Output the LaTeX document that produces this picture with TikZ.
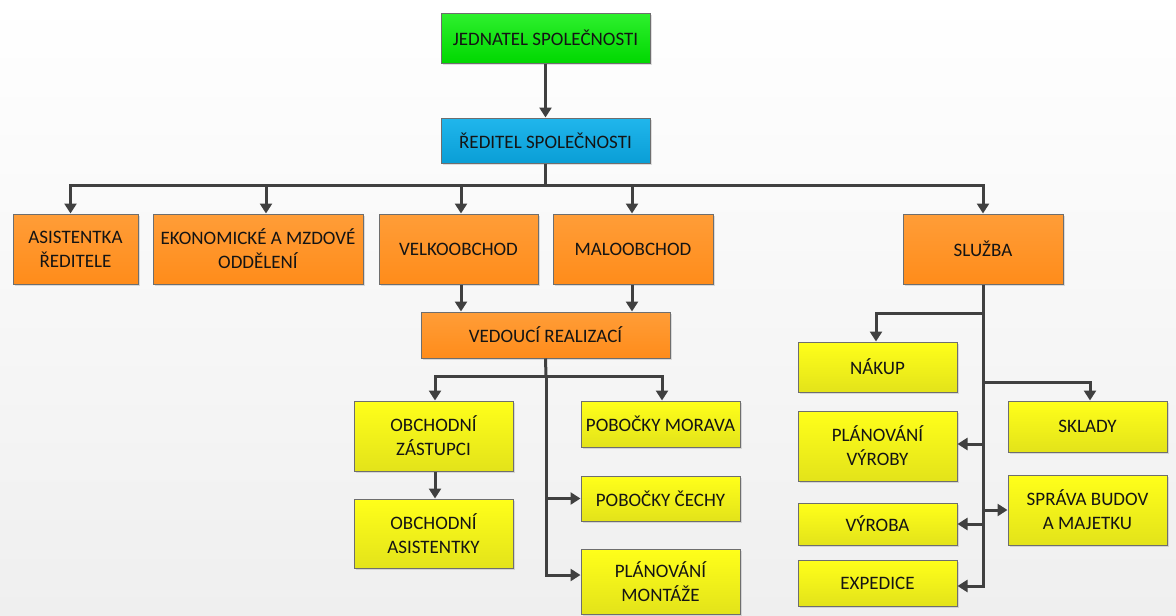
\documentclass[tikz,border=0pt]{standalone}
\usepackage{fontspec}
\setmainfont{Carlito}
\usetikzlibrary{arrows.meta,shadows,calc}
\definecolor{arrc}{HTML}{404040}
\definecolor{edgec}{HTML}{6E6E6E}
\definecolor{txtc}{HTML}{141414}
\definecolor{gtop}{HTML}{2EF02E}\definecolor{gbot}{HTML}{00D800}
\definecolor{btop}{HTML}{20B6EC}\definecolor{bbot}{HTML}{0A9ED6}
\definecolor{otop}{HTML}{FF9D38}\definecolor{obot}{HTML}{FF8C1A}
\definecolor{ytop}{HTML}{FFFF1A}\definecolor{ybot}{HTML}{E3E31A}
\definecolor{bgbot}{HTML}{EFEFEF}
\tikzset{
  box/.style={draw=edgec, line width=1pt, inner sep=0pt, align=center, text=txtc,
    font=\fontsize{19}{24}\selectfont,
    drop shadow={opacity=0.25, shadow xshift=2pt, shadow yshift=-2pt}},
  gbox/.style={box, top color=gtop, bottom color=gbot},
  bbox/.style={box, top color=btop, bottom color=bbot},
  obox/.style={box, top color=otop, bottom color=obot},
  ybox/.style={box, top color=ytop, bottom color=ybot},
  conn/.style={draw=arrc, line width=3pt},
  arr/.style={conn, -{Triangle[length=10pt,width=12pt]}}
}
\begin{document}
\begin{tikzpicture}[x=1pt,y=-1pt]
\useasboundingbox (0,0) rectangle (1176,616);
\fill[top color=white, bottom color=bgbot] (0,0) rectangle (1176,616);
% nodes
\node[gbox, minimum width=209pt, minimum height=50pt] (jed) at (545.5,38) {JEDNATEL SPOLEČNOSTI};
\node[bbox, minimum width=209pt, minimum height=45pt] (red) at (545.5,140.5) {ŘEDITEL SPOLEČNOSTI};
\node[obox, minimum width=125pt, minimum height=70pt] (asis) at (75.5,249) {ASISTENTKA\\ŘEDITELE};
\node[obox, minimum width=210pt, minimum height=70pt] (eko) at (258,249) {EKONOMICKÉ A MZDOVÉ\\ODDĚLENÍ};
\node[obox, minimum width=159pt, minimum height=70pt] (velko) at (458.5,249) {VELKOOBCHOD};
\node[obox, minimum width=160pt, minimum height=70pt] (malo) at (633,249) {MALOOBCHOD};
\node[obox, minimum width=160pt, minimum height=70pt] (sluz) at (983,249) {SLUŽBA};
\node[obox, minimum width=249pt, minimum height=46pt] (ved) at (545.5,335) {VEDOUCÍ REALIZACÍ};
\node[ybox, minimum width=159pt, minimum height=70pt] (oz) at (433.5,436) {OBCHODNÍ\\ZÁSTUPCI};
\node[ybox, minimum width=159pt, minimum height=69pt] (oa) at (433.5,533.5) {OBCHODNÍ\\ASISTENTKY};
\node[ybox, minimum width=159pt, minimum height=46pt] (pm) at (660.5,424) {POBOČKY MORAVA};
\node[ybox, minimum width=159pt, minimum height=45pt] (pc) at (660.5,498.5) {POBOČKY ČECHY};
\node[ybox, minimum width=159pt, minimum height=65pt] (plm) at (660.5,581.5) {PLÁNOVÁNÍ\\MONTÁŽE};
\node[ybox, minimum width=159pt, minimum height=50pt] (nak) at (877.5,367) {NÁKUP};
\node[ybox, minimum width=159pt, minimum height=70pt] (pv) at (877.5,446) {PLÁNOVÁNÍ\\VÝROBY};
\node[ybox, minimum width=159pt, minimum height=42pt] (vyr) at (877.5,524) {VÝROBA};
\node[ybox, minimum width=159pt, minimum height=46pt] (exp) at (877.5,583) {EXPEDICE};
\node[ybox, minimum width=159pt, minimum height=51pt] (skl) at (1087.5,426.5) {SKLADY};
\node[ybox, minimum width=159pt, minimum height=70pt] (spr) at (1087.5,510) {SPRÁVA BUDOV\\A MAJETKU};
% bus coordinates
\coordinate (b1) at (545.5,185);
\coordinate (b2) at (546,376);
\coordinate (b3) at (983,313);
\coordinate (b4) at (983,382);
% connectors
\draw[arr] (jed.south) -- (red.north);
\draw[conn] (red.south) -- (b1);
\draw[arr] (b1) -| ([xshift=-5pt]asis.north);
\draw[arr] (b1) -| ([xshift=8pt]eko.north);
\draw[arr] (b1) -| ([xshift=2.5pt]velko.north);
\draw[arr] (b1) -| ([xshift=-1pt]malo.north);
\draw[arr] (b1) -| (sluz.north);
\draw[arr] ([xshift=2.5pt]velko.south) -- ([xshift=2.5pt]velko.south |- ved.north);
\draw[arr] ([xshift=-1pt]malo.south) -- ([xshift=-1pt]malo.south |- ved.north);
\draw[conn] (ved.south) -- (b2);
\draw[arr] (b2) -| ([xshift=1.5pt]oz.north);
\draw[arr] (b2) -| ([xshift=1.5pt]pm.north);
\draw[arr] (b2) |- (pc.west);
\draw[arr] (b2) |- ([yshift=6.5pt]plm.west);
\draw[arr] ([xshift=1.5pt]oz.south) -- ([xshift=1.5pt]oa.north);
\draw[conn] (sluz.south) -- (b3);
\draw[arr] (b3) -| ([xshift=-1.5pt]nak.north);
\draw[arr] (b4) -| ([xshift=2.5pt]skl.north);
\draw[arr] (b3) |- ([yshift=2pt]pv.east);
\draw[arr] (b3) |- (spr.west);
\draw[arr] (b3) |- (vyr.east);
\draw[arr] (b3) |- ([yshift=-3pt]exp.east);
\end{tikzpicture}
\end{document}
